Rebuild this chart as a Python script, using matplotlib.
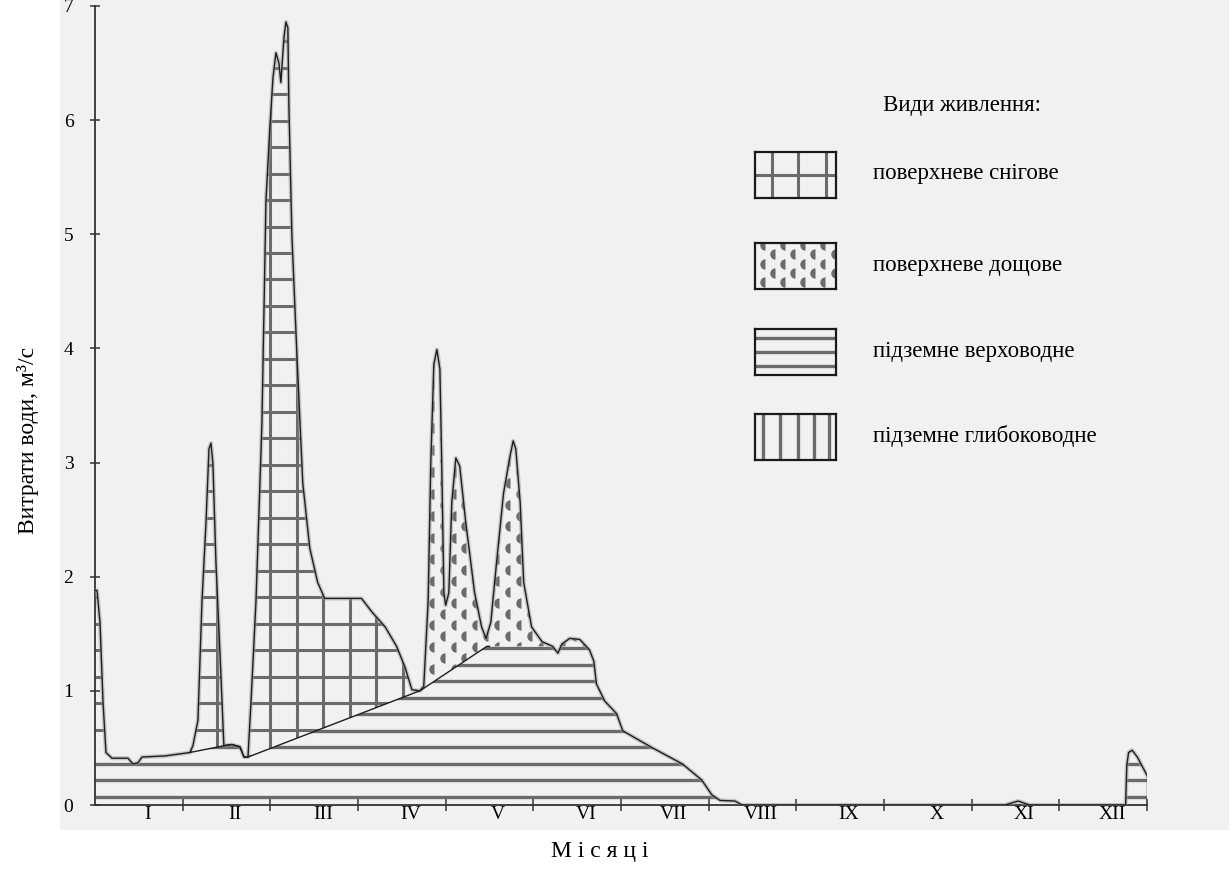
import numpy as np
import matplotlib
matplotlib.use("Agg")
import matplotlib.pyplot as plt
from matplotlib.patches import Polygon, Rectangle

plt.rcParams['font.family'] = ['Liberation Serif', 'DejaVu Serif']

months = ['I', 'II', 'III', 'IV', 'V', 'VI', 'VII', 'VIII', 'IX', 'X', 'XI', 'XII']

# total discharge hydrograph: time in months from 1 Jan, discharge in m3/s
flow_t = [0.0, 0.023, 0.057, 0.091, 0.125, 0.194, 0.376, 0.433, 0.49, 0.536, 0.80,
          1.083, 1.117, 1.174, 1.22, 1.266, 1.30, 1.323, 1.345, 1.38, 1.425, 1.47,
          1.56, 1.653, 1.70, 1.745, 1.78, 1.836, 1.904, 1.95, 1.995, 2.03, 2.064,
          2.098, 2.12, 2.155, 2.178, 2.20, 2.212, 2.246, 2.303, 2.37, 2.45, 2.54,
          2.62, 3.04, 3.16, 3.31, 3.44, 3.535, 3.615, 3.706, 3.75, 3.80, 3.83,
          3.865, 3.90, 3.934, 3.957, 3.98, 4.00, 4.036, 4.07, 4.116, 4.16, 4.23,
          4.33, 4.41, 4.46, 4.515, 4.58, 4.66, 4.73, 4.77, 4.80, 4.85, 4.89, 4.98,
          5.10, 5.22, 5.28, 5.325, 5.415, 5.53, 5.64, 5.69, 5.72, 5.815, 5.95,
          6.02, 6.36, 6.70, 6.92, 7.035, 7.13, 7.30, 7.38, 10.38, 10.53, 10.66,
          11.756, 11.77, 11.79, 11.83, 11.89, 12.0]
flow_q = [1.88, 1.88, 1.60, 0.91, 0.46, 0.41, 0.41, 0.36, 0.37, 0.42, 0.43,
          0.46, 0.52, 0.74, 1.78, 2.47, 3.12, 3.17, 2.99, 2.12, 1.34, 0.52,
          0.53, 0.51, 0.42, 0.42, 0.91, 1.78, 3.34, 5.29, 5.94, 6.37, 6.59,
          6.50, 6.33, 6.72, 6.86, 6.81, 6.11, 4.99, 3.95, 2.82, 2.25, 1.95,
          1.81, 1.81, 1.69, 1.56, 1.39, 1.21, 1.01, 1.00, 1.04, 1.78, 2.99,
          3.86, 3.99, 3.82, 2.91, 1.86, 1.75, 1.86, 2.65, 3.04, 2.97, 2.47,
          1.86, 1.56, 1.46, 1.60, 2.12, 2.73, 3.04, 3.19, 3.12, 2.65, 1.95, 1.56,
          1.43, 1.39, 1.33, 1.41, 1.46, 1.45, 1.36, 1.26, 1.06, 0.91, 0.80,
          0.65, 0.50, 0.36, 0.22, 0.09, 0.04, 0.035, 0.0, 0.0, 0.035, 0.0,
          0.0, 0.35, 0.46, 0.48, 0.42, 0.26]

# upper limit of groundwater (верховодне) feeding
base_t = [0.0, 1.083, 1.47, 1.56, 1.653, 1.745, 3.706, 4.47, 12.0]
base_q = [0.45, 0.46, 0.52, 0.53, 0.51, 0.42, 1.00, 1.39, 1.39]

snow_end = 3.706   # snowmelt flood ends, rain floods begin
rain_end = 5.72

legend_title = 'Види живлення:'
legend_labels = ['поверхневе снігове', 'поверхневе дощове',
                 'підземне верховодне', 'підземне глибоководне']

PAT = '#6b6b6b'
W, H = 1229, 886

fig = plt.figure(figsize=(W / 100, H / 100), dpi=100)
# scanned paper tone
fig.add_artist(Rectangle((60 / W, 56 / H), 1 - 60 / W, 1 - 56 / H,
                         transform=fig.transFigure, color='#f1f1f1', zorder=-5, lw=0))

ax = fig.add_axes([95 / W, 81 / H, (1147 - 95) / W, (805 - 6) / H])
ax.set_facecolor('none')
ax.set_xlim(0, 12)
ax.set_ylim(0, 7)

t = np.union1d(np.linspace(0, 12, 4801), flow_t)
q = np.interp(t, flow_t, flow_q)
gw = np.minimum(np.interp(t, base_t, base_q), q)


def region(mask, lower, upper):
    tt = t[mask]
    xy = np.column_stack([np.r_[tt, tt[::-1]], np.r_[upper[mask], lower[mask][::-1]]])
    p = Polygon(xy, closed=True, fc='none', ec='none', zorder=1)
    ax.add_patch(p)
    return p


def clip(artists, patch):
    for a in artists:
        a.set_clip_path(patch)


gw_patch = region(np.ones_like(t, bool), np.zeros_like(t), gw)
snow_patch = region(t <= snow_end, gw, q)
rain_patch = region((t >= snow_end) & (t <= rain_end), gw, q)

# horizontal stripes for groundwater
rows = np.arange(0.07, 1.5, 0.145)
clip([ax.axhline(y, color=PAT, lw=2.4, zorder=2) for y in rows], gw_patch)

# grid for snowmelt
g_rows = np.arange(0.196, 7.0, 0.232)
g_cols = np.arange(0.171, snow_end, 0.304)
clip([ax.axhline(y, color=PAT, lw=2.2, zorder=2) for y in g_rows], snow_patch)
clip([ax.axvline(x, color=PAT, lw=2.2, zorder=2) for x in g_cols], snow_patch)

# rain drops
cols = np.arange(snow_end + 0.03, rain_end, 0.1254)
for i, c in enumerate(cols):
    ys = np.arange(0.9 + (i % 2) * 0.096, 4.1, 0.1925)
    clip(ax.plot(np.full_like(ys, c), ys, ls='none', marker='o', ms=7.5,
                 fillstyle='left', mfc=PAT, mfcalt='none', mec='none', zorder=2),
         rain_patch)

# hydrograph outline and component boundary
ax.plot(flow_t, flow_q, color='#9a9a9a', lw=3.0, alpha=0.5, zorder=3)
ax.plot(flow_t, flow_q, color='#1e1e1e', lw=1.0, zorder=4)
ax.vlines(flow_t[-1], 0, flow_q[-1], color='#1e1e1e', lw=1.0, zorder=4)
sel = (t >= 1.08) & (t <= 4.5)
ax.plot(t[sel], gw[sel], color='#1e1e1e', lw=1.0, zorder=4)

for s in ['top', 'right']:
    ax.spines[s].set_visible(False)
for s in ['left', 'bottom']:
    ax.spines[s].set_color('#333333')
    ax.spines[s].set_linewidth(1.3)

ax.set_yticks(range(8))
ax.tick_params(axis='y', direction='inout', length=7, width=1.1, color='#333333',
               labelsize=14, pad=12)
ax.set_xticks(np.arange(1, 13))
ax.set_xticklabels([])
ax.tick_params(axis='x', which='major', direction='inout', length=8, width=1.1,
               color='#333333')
ax.set_xticks(np.arange(12) + 0.6, minor=True)
ax.set_xticklabels(months, minor=True)
ax.tick_params(axis='x', which='minor', length=0, labelsize=14, pad=1)

fig.text(28 / W, 1 - 440 / H, 'Витрати води, м³/с', rotation=90,
         ha='center', va='center', fontsize=17)
fig.text(600 / W, 1 - 852 / H, 'М і с я ц і', ha='center', va='center', fontsize=17)

# legend
fig.text(883 / W, 1 - 105 / H, legend_title, ha='left', va='center', fontsize=16.5)
box_tops = [152, 243, 329, 414]
for k, (top, lab) in enumerate(zip(box_tops, legend_labels)):
    lx = fig.add_axes([755 / W, 1 - (top + 46) / H, 81 / W, 46 / H])
    lx.set_xlim(0, 1)
    lx.set_ylim(0, 1)
    lx.set_xticks([])
    lx.set_yticks([])
    lx.set_facecolor('none')
    for sp in lx.spines.values():
        sp.set_linewidth(1.6)
        sp.set_color('#1a1a1a')
    if k == 0:
        for x in [0.21, 0.53, 0.88]:
            lx.axvline(x, color=PAT, lw=2.2)
        lx.axhline(0.5, color=PAT, lw=2.2)
    elif k == 1:
        for i, x in enumerate(np.arange(0.12, 1.0, 0.125)):
            ys = np.arange(0.15 + (i % 2) * 0.2, 1.0, 0.4)
            lx.plot(np.full_like(ys, x), ys, ls='none', marker='o', ms=7.5,
                    fillstyle='left', mfc=PAT, mfcalt='none', mec='none')
    elif k == 2:
        for y in [0.19, 0.51, 0.81]:
            lx.axhline(y, color=PAT, lw=2.4)
    else:
        for x in [0.10, 0.31, 0.53, 0.73, 0.91]:
            lx.axvline(x, color=PAT, lw=2.4)
    fig.text(873 / W, 1 - (top + 22) / H, lab, ha='left', va='center', fontsize=16.5)

fig.savefig('out.png', dpi=100)
